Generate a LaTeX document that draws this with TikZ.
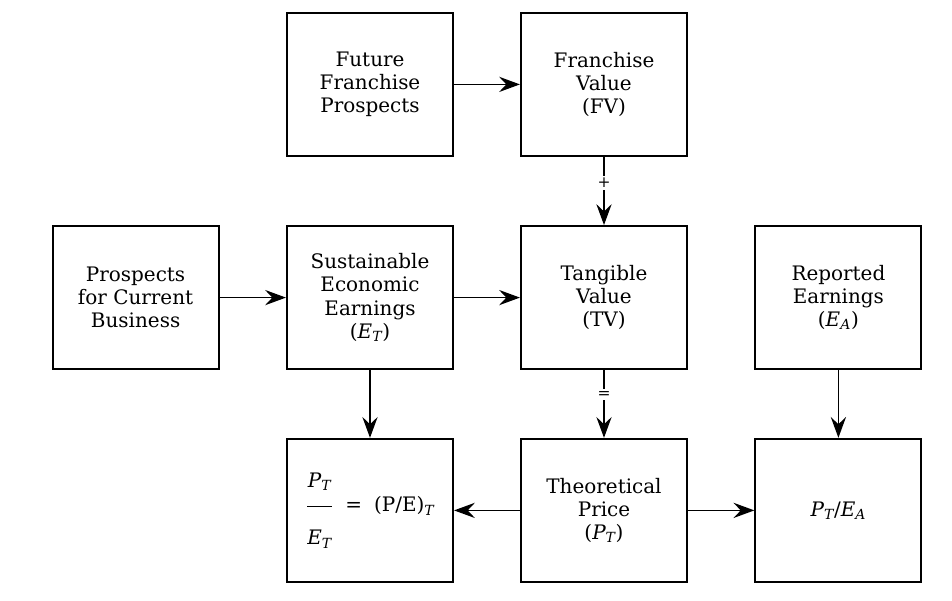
\documentclass[tikz,border=0pt]{standalone}
\usepackage{amsmath}
\usepackage{fontspec}
\setmainfont{DejaVu Serif}
\usetikzlibrary{arrows.meta,positioning}

\newcommand{\sub}[2]{\ensuremath{\textit{#1}_{\textit{#2}}}}

\begin{document}
\begin{tikzpicture}[
    box/.style={draw, line width=1.5pt, minimum width=4.15cm, minimum height=3.575cm,
                align=center, inner sep=2pt, font=\fontsize{14.2}{16.5}\selectfont},
    link/.style={line width=1.2pt, -{Stealth[length=5.2mm, width=3.8mm, inset=1.8mm]}},
    sign/.style={fill=white, inner sep=1.5pt, font=\fontsize{11}{12}\selectfont},
]

\useasboundingbox (0,0) rectangle (23.8,15);

\def\cola{3.39}  \def\colb{9.25}  \def\colc{15.1}  \def\cold{20.96}
\def\rowa{12.89} \def\rowb{7.56}  \def\rowc{2.24}

% Top row
\node[box] (future) at (\colb,\rowa) {Future\\Franchise\\Prospects};
\node[box] (fv)     at (\colc,\rowa) {Franchise\\Value\\(FV)};

% Middle row
\node[box] (current)  at (\cola,\rowb) {Prospects\\for Current\\Business};
\node[box] (see)      at (\colb,\rowb) {Sustainable\\Economic\\Earnings\\(\sub{E}{T})};
\node[box] (tv)       at (\colc,\rowb) {Tangible\\Value\\(TV)};
\node[box] (reported) at (\cold,\rowb) {Reported\\Earnings\\(\sub{E}{A})};

% Bottom row
\node[box] (peratio) at (\colb,\rowc)
    {\(\dfrac{\rule[-1.6ex]{0pt}{0pt}\sub{P}{T}}{\rule{0pt}{3.4ex}\sub{E}{T}}\) \;=\; (P/E)\(_{\textit{T}}\)};
\node[box] (price)   at (\colc,\rowc) {Theoretical\\Price\\(\sub{P}{T})};
\node[box] (ratio)   at (\cold,\rowc) {\sub{P}{T}/\sub{E}{A}};

% Connectors
\draw[link] (future) -- (fv);
\draw[link] (current) -- (see);
\draw[link] (see) -- (tv);
\draw[link] (fv) -- node[sign, pos=0.38] {+} (tv);
\draw[link] (tv) -- node[sign, pos=0.36] {=} (price);
\draw[link] (see) -- (peratio);
\draw[link] (reported) -- (ratio);
\draw[link] (price) -- (peratio);
\draw[link] (price) -- (ratio);

\end{tikzpicture}
\end{document}
